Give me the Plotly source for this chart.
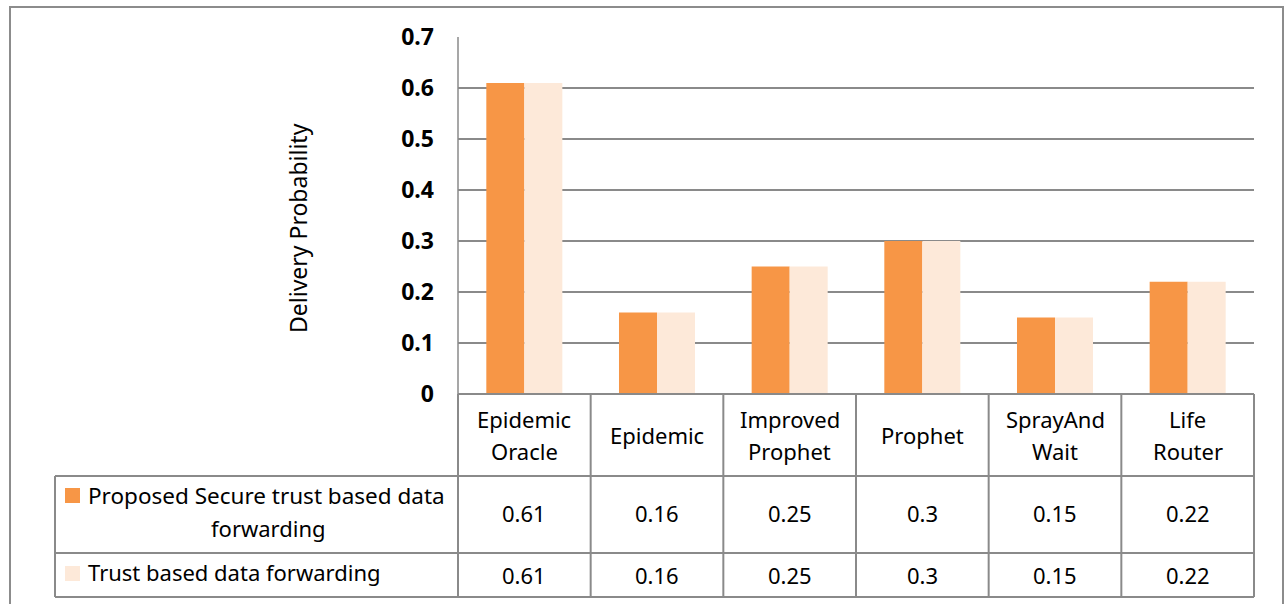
import plotly.graph_objects as go

categories = ["Epidemic Oracle", "Epidemic", "Improved Prophet", "Prophet", "SprayAnd Wait", "Life Router"]
category_lines = [["Epidemic", "Oracle"], ["Epidemic"], ["Improved", "Prophet"], ["Prophet"], ["SprayAnd", "Wait"], ["Life", "Router"]]
series_names = ["Proposed Secure trust based data forwarding", "Trust based data forwarding"]
proposed = [0.61, 0.16, 0.25, 0.3, 0.15, 0.22]
trust = [0.61, 0.16, 0.25, 0.3, 0.15, 0.22]
y_ticks = [0, 0.1, 0.2, 0.3, 0.4, 0.5, 0.6, 0.7]
y_tick_labels = ["0", "0.1", "0.2", "0.3", "0.4", "0.5", "0.6", "0.7"]

W, H = 1285, 604
PL, PR, PT, PB = 458, 1254, 37, 394
FONT = "Noto Sans"
GRID = "#8a8a8a"
C1 = "#F79646"
C2 = "#FDE9D9"


def px(x):
    return (x - PL) / (PR - PL)


def py(y):
    return (PB - y) / (PB - PT)


fig = go.Figure()
fig.add_trace(go.Bar(x=categories, y=proposed, name=series_names[0], marker=dict(color=C1, line=dict(width=0))))
fig.add_trace(go.Bar(x=categories, y=trust, name=series_names[1], marker=dict(color=C2, line=dict(width=0))))

shapes = []
# outer border
shapes.append(dict(type="rect", xref="paper", yref="paper", x0=px(10), x1=px(1283), y0=py(640), y1=py(7),
                   line=dict(color="#8c8c8c", width=2), layer="below"))
# axis line
shapes.append(dict(type="line", xref="paper", yref="paper", x0=px(PL), x1=px(PL), y0=py(PB), y1=py(PT),
                   line=dict(color=GRID, width=1.5)))
# table horizontal lines
for yy, x0 in [(PB, PL), (476, 55), (553, 55), (597, 55)]:
    shapes.append(dict(type="line", xref="paper", yref="paper", x0=px(x0), x1=px(PR), y0=py(yy), y1=py(yy),
                       line=dict(color=GRID, width=2)))
# table vertical lines
ncat = len(categories)
for i in range(ncat + 1):
    xx = PL + i * (PR - PL) / ncat
    shapes.append(dict(type="line", xref="paper", yref="paper", x0=px(xx), x1=px(xx), y0=py(PB), y1=py(597),
                       line=dict(color=GRID, width=2)))
shapes.append(dict(type="line", xref="paper", yref="paper", x0=px(55), x1=px(55), y0=py(476), y1=py(597),
                   line=dict(color=GRID, width=2)))
# legend keys
for (y0, y1), col in [((488, 503), C1), ((566, 581), C2)]:
    shapes.append(dict(type="rect", xref="paper", yref="paper", x0=px(65), x1=px(80), y0=py(y1), y1=py(y0),
                       fillcolor=col, line=dict(width=0)))

annotations = []
tf = dict(family=FONT, size=22, color="#000000")
# category labels
for cat, lines in zip(categories, category_lines):
    if len(lines) == 2:
        ys = [419, 451]
    else:
        ys = [435]
    for ln, yy in zip(lines, ys):
        annotations.append(dict(x=cat, xref="x", y=py(yy), yref="paper", text=ln, showarrow=False,
                                font=tf, xanchor="center", yanchor="middle"))
# values
for vals, yy in [(proposed, 513), (trust, 575)]:
    for cat, v in zip(categories, vals):
        annotations.append(dict(x=cat, xref="x", y=py(yy), yref="paper", text=f"{v:g}", showarrow=False,
                                font=tf, xanchor="center", yanchor="middle"))
# legend labels
annotations.append(dict(x=px(86), y=py(496), xref="paper", yref="paper", text="Proposed Secure trust based data",
                        showarrow=False, font=dict(family=FONT, size=22.5, color="#000000"),
                        xanchor="left", yanchor="middle"))
annotations.append(dict(x=px(268), y=py(528), xref="paper", yref="paper", text="forwarding",
                        showarrow=False, font=tf, xanchor="center", yanchor="middle"))
annotations.append(dict(x=px(86), y=py(572), xref="paper", yref="paper", text=series_names[1],
                        showarrow=False, font=tf, xanchor="left", yanchor="middle"))
# y title
annotations.append(dict(x=px(298), y=py(228), xref="paper", yref="paper", text="Delivery Probability",
                        showarrow=False, textangle=-90, font=dict(family=FONT, size=23, color="#000000"),
                        xanchor="center", yanchor="middle"))

fig.update_layout(
    width=W, height=H, autosize=False,
    margin=dict(l=PL, r=W - PR, t=PT, b=H - PB, pad=0),
    paper_bgcolor="white", plot_bgcolor="white",
    barmode="group", bargap=0.427, bargroupgap=0,
    showlegend=False,
    shapes=shapes, annotations=annotations,
    xaxis=dict(showticklabels=False, showgrid=False, zeroline=False, showline=False, ticks="",
               range=[-0.5, 5.5]),
    yaxis=dict(range=[0, 0.7], tickvals=y_ticks, ticktext=y_tick_labels, showgrid=True, gridcolor=GRID,
               gridwidth=1.5, zeroline=False, showline=False, ticks="", ticklabelstandoff=23,
               tickfont=dict(family=FONT, size=23, color="#000000", weight="bold")),
)

fig.write_html("out.html", config={"displayModeBar": False},
               post_script="document.body.style.margin='0';document.body.style.overflow='hidden';")
